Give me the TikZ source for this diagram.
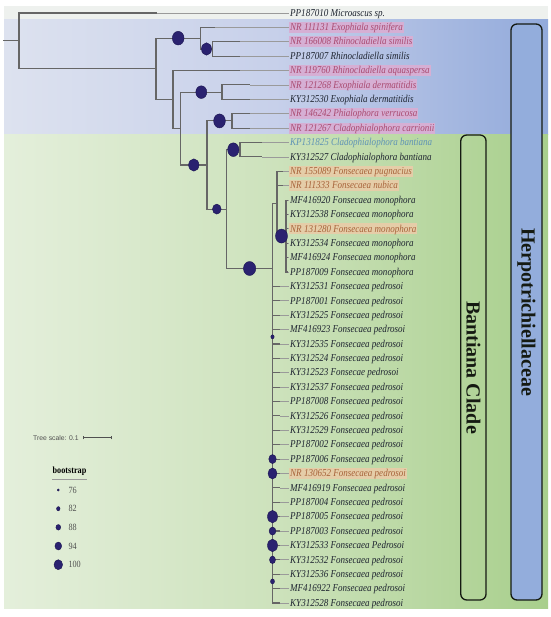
\documentclass[tikz,border=0pt]{standalone}
\usepackage{fontspec}
\setmainfont{Liberation Serif}
\newfontfamily\labfont{Liberation Serif}[FakeStretch=0.86]
\newfontfamily\tsfont{Liberation Sans}
\usetikzlibrary{shapes.geometric}
\definecolor{topc}{HTML}{EEF1EE}
\definecolor{blueL}{HTML}{DDE2EF}
\definecolor{blueM}{HTML}{C7D0EA}
\definecolor{blueR}{HTML}{92AADB}
\definecolor{greenL}{HTML}{E4EFDB}
\definecolor{greenM}{HTML}{CDE2BC}
\definecolor{greenR}{HTML}{A8CF8C}
\definecolor{brc}{HTML}{666666}
\definecolor{gdc}{HTML}{9A9A9A}
\definecolor{labc}{HTML}{1E2430}
\definecolor{hlb}{HTML}{D6AFD4}
\definecolor{refbc}{HTML}{A94A70}
\definecolor{hlg}{HTML}{E5CDA8}
\definecolor{refgc}{HTML}{A7633A}
\definecolor{tealc}{HTML}{5F93B5}
\definecolor{bootc}{HTML}{2A2270}
\definecolor{bootd}{HTML}{1A1450}
\definecolor{herpc}{HTML}{93ADDC}
\definecolor{boxc}{HTML}{151A12}
\definecolor{legc}{HTML}{505050}
\begin{document}
\begin{tikzpicture}[x=1pt,y=-1pt,
  branch/.style={draw=brc,line width=1.1pt},
  guide/.style={draw=gdc,line width=0.7pt},
  lab/.style={font=\labfont\itshape\fontsize{10.5}{12}\selectfont,text=labc,anchor=west,inner xsep=1pt,inner ysep=1pt,text height=7.7pt,text depth=1.3pt},
  refb/.style={lab,fill=hlb,text=refbc},
  refg/.style={lab,fill=hlg,text=refgc},
  teal/.style={lab,text=tealc},
  boot/.style={ellipse,fill=bootc,draw=bootd,line width=0.4pt,inner sep=0pt},
  cladebox/.style={draw=boxc,line width=1.3pt,rounded corners=6pt,rotate=-90,font=\bfseries\fontsize{20}{22}\selectfont,text=boxc,inner sep=0pt},
  legnum/.style={font=\labfont\fontsize{9.5}{11}\selectfont,text=legc,anchor=west,inner sep=0pt}]
\useasboundingbox (0,0) rectangle (550,617);
% backgrounds
\fill[white] (0,0) rectangle (550,617);
\fill[topc] (4,6) rectangle (548,20);
\shade[left color=blueL,right color=blueM] (4,20) rectangle (275.5,135);
\shade[left color=blueM,right color=blueR] (275,20) rectangle (548,135);
\shade[left color=greenL,right color=greenM] (4,135) rectangle (275.5,608);
\shade[left color=greenM,right color=greenR] (275,135) rectangle (548,608);
% clade boxes
\node[cladebox,fill=herpc,minimum width=576pt,minimum height=31pt] (herp) at (526.5,312) {Herpotrichiellaceae};
\node[cladebox,minimum width=465pt,minimum height=25.3pt] (bant) at (473.4,367.5) {Bantiana Clade};
% labels
\foreach \i/\s/\t in {
 0/lab/{PP187010 Microascus sp.},
 1/refb/{NR 111131 Exophiala spinifera},
 2/refb/{NR 166008 Rhinocladiella similis},
 3/lab/{PP187007 Rhinocladiella similis},
 4/refb/{NR 119760 Rhinocladiella aquaspersa},
 5/refb/{NR 121268 Exophiala dermatitidis},
 6/lab/{KY312530 Exophiala dermatitidis},
 7/refb/{NR 146242 Phialophora verrucosa},
 8/refb/{NR 121267 Cladophialophora carrionii},
 9/teal/{KP131825 Cladophialophora bantiana},
 10/lab/{KY312527 Cladophialophora bantiana},
 11/refg/{NR 155089 Fonsecaea pugnacius},
 12/refg/{NR 111333 Fonsecaea nubica},
 13/lab/{MF416920 Fonsecaea monophora},
 14/lab/{KY312538 Fonsecaea monophora},
 15/refg/{NR 131280 Fonsecaea monophora},
 16/lab/{KY312534 Fonsecaea monophora},
 17/lab/{MF416924 Fonsecaea monophora},
 18/lab/{PP187009 Fonsecaea monophora},
 19/lab/{KY312531 Fonsecaea pedrosoi},
 20/lab/{PP187001 Fonsecaea pedrosoi},
 21/lab/{KY312525 Fonsecaea pedrosoi},
 22/lab/{MF416923 Fonsecaea pedrosoi},
 23/lab/{KY312535 Fonsecaea pedrosoi},
 24/lab/{KY312524 Fonsecaea pedrosoi},
 25/lab/{KY312523 Fonsecae pedrosoi},
 26/lab/{KY312537 Fonsecaea pedrosoi},
 27/lab/{PP187008 Fonsecaea pedrosoi},
 28/lab/{KY312526 Fonsecaea pedrosoi},
 29/lab/{KY312529 Fonsecaea pedrosoi},
 30/lab/{PP187002 Fonsecaea pedrosoi},
 31/lab/{PP187006 Fonsecaea pedrosoi},
 32/refg/{NR 130652 Fonsecaea pedrosoi},
 33/lab/{MF416919 Fonsecaea pedrosoi},
 34/lab/{PP187004 Fonsecaea pedrosoi},
 35/lab/{PP187005 Fonsecaea pedrosoi},
 36/lab/{PP187003 Fonsecaea pedrosoi},
 37/lab/{KY312533 Fonsecaea Pedrosoi},
 38/lab/{KY312532 Fonsecaea pedrosoi},
 39/lab/{KY312536 Fonsecaea pedrosoi},
 40/lab/{MF416922 Fonsecaea pedrosoi},
 41/lab/{KY312528 Fonsecaea pedrosoi}}
 {\node[\s] (L\i) at (289,{13+14.39*\i}) {\t};}
% internal nodes
\coordinate (r0) at (3,40.95);
\coordinate (R0) at (19,40.95);
\coordinate (N1) at (156,68.9);
\coordinate (A) at (200.5,38.18);
\coordinate (A2) at (212.5,48.98);
\coordinate (B) at (173,99.6);
\coordinate (C) at (180.5,128.6);
\coordinate (D) at (222,92.15);
\coordinate (E) at (207,165.0);
\coordinate (F) at (232,120.93);
\coordinate (S) at (226.7,209.1);
\coordinate (G) at (240,149.7);
\coordinate (R) at (272.5,268.5);
\coordinate (P) at (277,203.67);
\coordinate (Q) at (286,236.05);
\draw[branch] (r0) -- (R0);
\draw[branch] (R0) |- (N1);
\draw[branch] (N1) |- (A);
\draw[branch] (N1) |- (B);
\draw[branch] (A) |- (A2);
\draw[branch] (B) |- (C);
\draw[branch] (C) |- (D);
\draw[branch] (C) |- (E);
\draw[branch] (E) |- (F);
\draw[branch] (E) |- (S);
\draw[branch] (S) |- (G);
\draw[branch] (S) |- (R);
\draw[branch] (R) |- (P);
\draw[branch] (P) |- (Q);
% leaves
\foreach \i/\p/\tx in {0/R0/157,1/A/215,2/A2/240,3/A2/240,4/B/240,5/D/250,6/D/250,7/F/250,8/F/250,
 9/G/262,10/G/262,11/P/283,12/P/283,13/Q/288,14/Q/288,15/Q/288,16/Q/288,17/Q/288,18/Q/288,
 19/R/280,20/R/280,21/R/280,22/R/280,23/R/280,24/R/280,25/R/280,26/R/280,27/R/280,28/R/280,
 29/R/280,30/R/280,31/R/280,32/R/280,33/R/280,34/R/280,35/R/280,36/R/280,37/R/280,38/R/280,
 39/R/280,40/R/280,41/R/280}
 {\coordinate (T\i) at (\tx,{13+14.39*\i});
  \draw[guide] (T\i) -- (L\i.west);
  \draw[branch] (\p) |- (T\i);}
% bootstrap markers
\node[boot,minimum width=11.7pt,minimum height=13.7pt] (c1) at (178.2,38.18) {};
\node[boot,minimum width=10pt,minimum height=12.5pt] (c2) at (206.5,48.98) {};
\node[boot,minimum width=11pt,minimum height=12.7pt] (c3) at (201.3,92.15) {};
\node[boot,minimum width=11.7pt,minimum height=14pt] (c4) at (219.5,120.93) {};
\node[boot,minimum width=10.3pt,minimum height=12.3pt] (c5) at (193.8,165.0) {};
\node[boot,minimum width=11.3pt,minimum height=13.7pt] (c6) at (233.3,149.7) {};
\node[boot,minimum width=8.7pt,minimum height=10pt] (c7) at (216.8,209.1) {};
\node[boot,minimum width=12.3pt,minimum height=14pt] (c8) at (249.6,268.5) {};
\node[boot,minimum width=12pt,minimum height=14pt] (c9) at (281.5,236.05) {};
\node[boot,minimum width=3.3pt,minimum height=4pt] (c10) at (272.5,336.8) {};
\node[boot,minimum width=7.5pt,minimum height=9pt] (c11) at (272.5,459.09) {};
\node[boot,minimum width=9pt,minimum height=11pt] (c12) at (272.5,473.48) {};
\node[boot,minimum width=10pt,minimum height=12.5pt] (c13) at (272.5,516.65) {};
\node[boot,minimum width=6.8pt,minimum height=8pt] (c14) at (272.5,531.04) {};
\node[boot,minimum width=10pt,minimum height=12.5pt] (c15) at (272.5,545.43) {};
\node[boot,minimum width=6pt,minimum height=7.5pt] (c16) at (272.5,559.82) {};
\node[boot,minimum width=4pt,minimum height=5pt] (c17) at (272.5,581.4) {};
% tree scale
\node[font=\tsfont\fontsize{6.8}{8}\selectfont,text=legc,anchor=west,inner sep=0pt] (ts) at (33,437.7) {Tree scale: 0.1};
\coordinate (sb1) at (83,437.7);
\coordinate (sb2) at (111,437.7);
\draw[draw=legc,line width=0.5pt] (sb1) -- (sb2);
\draw[draw=legc,line width=0.5pt] ([yshift=-1.6pt]sb1) -- ([yshift=1.6pt]sb1);
\draw[draw=legc,line width=0.5pt] ([yshift=-1.6pt]sb2) -- ([yshift=1.6pt]sb2);
% bootstrap legend
\node[font=\labfont\bfseries\fontsize{9.5}{11}\selectfont,text=black,inner sep=0pt] (bt) at (69.5,471.2) {bootstrap};
\coordinate (u1) at (52,479.5);
\coordinate (u2) at (87,479.5);
\draw[draw=gdc,line width=0.6pt] (u1) -- (u2);
\node[boot,minimum width=2pt,minimum height=2.3pt] (k1) at (58.3,490) {};
\node[boot,minimum width=3.5pt,minimum height=4.2pt] (k2) at (58.3,508.7) {};
\node[boot,minimum width=4.8pt,minimum height=5.6pt] (k3) at (58.3,527.3) {};
\node[boot,minimum width=6.7pt,minimum height=8pt] (k4) at (58.3,546) {};
\node[boot,minimum width=8.6pt,minimum height=10pt] (k5) at (58.3,564.7) {};
\node[legnum] (n1) at (68.3,490) {76};
\node[legnum] (n2) at (68.3,508.7) {82};
\node[legnum] (n3) at (68.3,527.3) {88};
\node[legnum] (n4) at (68.3,546) {94};
\node[legnum] (n5) at (68.3,564.7) {100};
\end{tikzpicture}
\end{document}
